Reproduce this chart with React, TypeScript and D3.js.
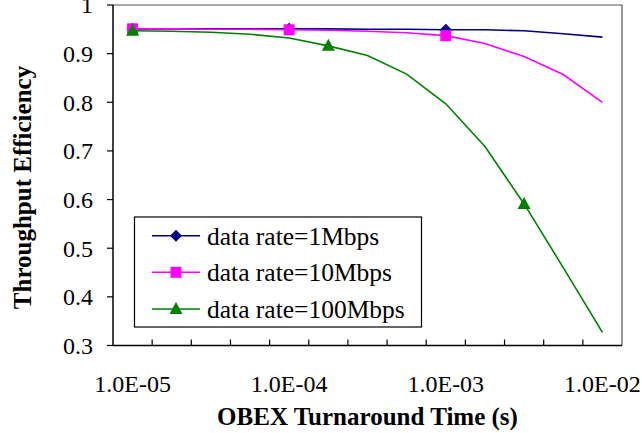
import React, { useEffect } from 'react';
import * as d3 from 'd3';

const xCategories = ['1.0E-05', '1.8E-05', '3.2E-05', '5.6E-05', '1.0E-04', '1.8E-04', '3.2E-04', '5.6E-04', '1.0E-03', '1.8E-03', '3.2E-03', '5.6E-03', '1.0E-02'];
const xTickLabels = ['1.0E-05', '1.0E-04', '1.0E-03', '1.0E-02'];
const yTicks = [0.3, 0.4, 0.5, 0.6, 0.7, 0.8, 0.9, 1];

const rate1Mbps = [0.951, 0.951, 0.951, 0.951, 0.951, 0.951, 0.95, 0.95, 0.949, 0.949, 0.947, 0.941, 0.934];
const rate10Mbps = [0.951, 0.951, 0.95, 0.95, 0.949, 0.948, 0.946, 0.943, 0.937, 0.921, 0.894, 0.857, 0.8];
const rate100Mbps = [0.947, 0.946, 0.944, 0.94, 0.932, 0.916, 0.896, 0.858, 0.797, 0.709, 0.591, 0.46, 0.327];

const seriesNames = ['data rate=1Mbps', 'data rate=10Mbps', 'data rate=100Mbps'];
const seriesColors = ['#000080', '#FF00FF', '#008000'];
const seriesShapes = ['diamond', 'square', 'triangle'];
const markerIdx = [[0, 4, 8], [0, 4, 8], [0, 5, 10]];

const W = 642, H = 433;
const L = 113, R = 622, T = 5, B = 345.5;
const FONT = "'Liberation Serif', 'Times New Roman', serif";

function Marker({ shape, x, y, color }: { shape: string; x: number; y: number; color: string }) {
  if (shape === 'square') return <rect x={x - 5.5} y={y - 5.5} width={11} height={11} fill={color} />;
  if (shape === 'diamond') return <path d={`M${x},${y - 6}L${x + 6},${y}L${x},${y + 6}L${x - 6},${y}Z`} fill={color} />;
  return <path d={`M${x},${y - 7}L${x + 6.5},${y + 5}L${x - 6.5},${y + 5}Z`} fill={color} />;
}

export default function App() {
  useEffect(() => {
    document.body.style.margin = '0';
  }, []);
  const x = d3.scaleBand<string>().domain(xCategories).range([L, R]);
  const cx = (c: string) => (x(c) as number) + x.bandwidth() / 2;
  const y = d3.scaleLinear().domain([0.3, 1]).range([B, T]);
  const data = [rate1Mbps, rate10Mbps, rate100Mbps];
  const line = d3.line<number>().x((_, i) => cx(xCategories[i])).y((d) => y(d));
  const boundaries = xCategories.slice(1).map((c) => x(c) as number);
  const legendRows = [235.7, 272.3, 309];

  return (
    <svg width={W} height={H} style={{ display: 'block', background: '#fff' }} fontFamily={FONT}>
      <rect x={0} y={0} width={W} height={H} fill="#fff" />
      <path d={`M${L},${T}H${R}V${B}`} fill="none" stroke="#555" strokeWidth={1.2} />
      {yTicks.map((t) => (
        <g key={t}>
          <line x1={L - 6} x2={L} y1={y(t)} y2={y(t)} stroke="#000" strokeWidth={1.2} />
          <text x={93} y={y(t)} dy="0.35em" textAnchor="end" fontSize={24}>{String(t)}</text>
        </g>
      ))}
      {boundaries.map((b, i) => (
        <line key={i} x1={b} x2={b} y1={B} y2={B - 6} stroke="#000" strokeWidth={1.2} />
      ))}
      {xTickLabels.map((lab) => (
        <text key={lab} x={cx(lab)} y={391.5} textAnchor="middle" fontSize={24}>{lab}</text>
      ))}
      <line x1={L} x2={L} y1={T} y2={B} stroke="#000" strokeWidth={1.5} />
      <line x1={L} x2={R} y1={B} y2={B} stroke="#000" strokeWidth={1.5} />
      {data.map((s, k) => (
        <g key={k}>
          <path d={line(s) as string} fill="none" stroke={seriesColors[k]} strokeWidth={1.6} />
          {markerIdx[k].map((i) => (
            <Marker key={i} shape={seriesShapes[k]} x={cx(xCategories[i])} y={y(s[i])} color={seriesColors[k]} />
          ))}
        </g>
      ))}
      <rect x={134.5} y={217} width={287} height={110} fill="#fff" stroke="#000" strokeWidth={1.2} />
      {seriesNames.map((n, k) => (
        <g key={n}>
          <line x1={152} x2={200} y1={legendRows[k]} y2={legendRows[k]} stroke={seriesColors[k]} strokeWidth={1.6} />
          <Marker shape={seriesShapes[k]} x={176} y={legendRows[k]} color={seriesColors[k]} />
          <text x={207} y={legendRows[k]} dy="0.35em" fontSize={25.5}>{n}</text>
        </g>
      ))}
      <text x={(L + R) / 2} y={425} textAnchor="middle" fontSize={25} fontWeight="bold">OBEX Turnaround Time (s)</text>
      <text transform={`translate(31,187.5) rotate(-90)`} textAnchor="middle" fontSize={25} fontWeight="bold">Throughput Efficiency</text>
    </svg>
  );
}
